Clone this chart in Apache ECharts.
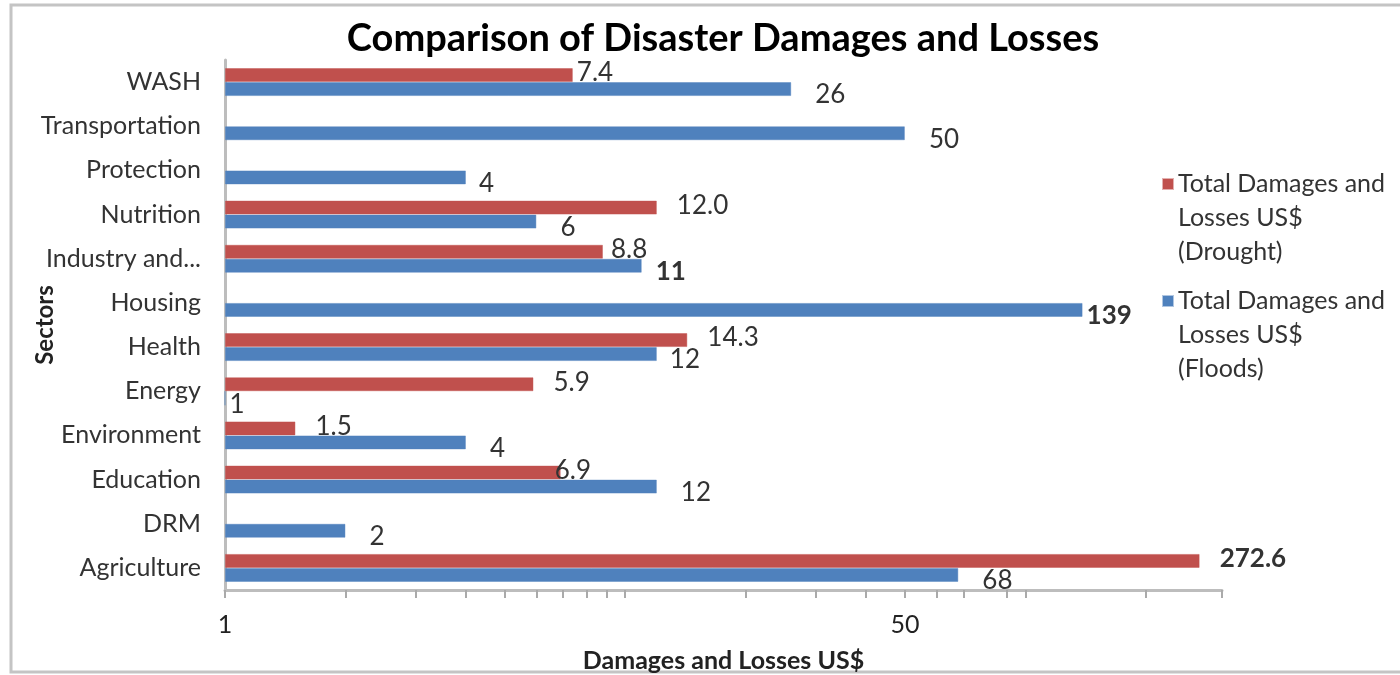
<!DOCTYPE html>
<html>
<head>
<meta charset="utf-8">
<script src="https://cdn.jsdelivr.net/npm/echarts@6/dist/echarts.min.js"></script>
<style>
  html, body { margin: 0; padding: 0; background: #fff; }
  #container { width: 1400px; height: 675px; }
</style>
</head>
<body>
<div id="container"></div>
<script>
// Sectors, bottom to top as the category axis draws them
const sectors = ['Agriculture', 'DRM', 'Education', 'Environment', 'Energy', 'Health',
  'Housing', 'Industry and...', 'Nutrition', 'Protection', 'Transportation', 'WASH'];
const drought = [272.6, null, 6.9, 1.5, 5.9, 14.3, null, 8.8, 12.0, null, null, 7.4];
const floods = [68, 2, 12, 4, 1, 12, 139, 11, 6, 4, 50, 26];
const xLabels = [1, 50];
const xTicks = [1, 2, 3, 4, 5, 6, 7, 8, 9, 10, 20, 30, 40, 50, 60, 70, 90, 100, 200, 310];

// a few data labels were nudged by hand in the original
const labelTweaks = {
  'Drought:WASH': { distance: 4 },
  'Drought:Industry and...': { distance: 8 },
  'Drought:Education': { distance: -6 },
  'Drought:Agriculture': { fontWeight: 'bold' },
  'Floods:Housing': { distance: 4, fontWeight: 'bold' },
  'Floods:Industry and...': { distance: 14, fontWeight: 'bold' },
  'Floods:Energy': { distance: 4 },
  'Floods:Protection': { distance: 13 },
  'Floods:Health': { distance: 13 }
};

const font = 'Lato';
const chart = echarts.init(document.getElementById('container'));

function items(name, values) {
  return values.map((v, i) => {
    const t = labelTweaks[name + ':' + sectors[i]];
    return t ? { value: v, label: t } : v;
  });
}

const legendText = { fontFamily: font, fontSize: 25, color: '#333', lineHeight: 34 };

const option = {
  backgroundColor: '#fff',
  animation: false,
  title: {
    text: 'Comparison of Disaster Damages and Losses',
    left: 718, top: 15, textAlign: 'center',
    textStyle: { fontFamily: font, fontSize: 38, fontWeight: 'bold', color: '#000' }
  },
  graphic: [{
    type: 'rect', shape: { x: 11, y: 5, width: 1400, height: 667 },
    style: { fill: 'none', stroke: '#c4c4c4', lineWidth: 3 }, silent: true
  }],
  legend: [
    {
      data: ['Drought'], orient: 'vertical', left: 1157, top: 94,
      icon: 'rect', itemWidth: 10, itemHeight: 10, textStyle: legendText,
      formatter: () => '\n\nTotal Damages and\nLosses US$\n(Drought)'
    },
    {
      data: ['Floods'], orient: 'vertical', left: 1157, top: 211,
      icon: 'rect', itemWidth: 10, itemHeight: 10, textStyle: legendText,
      formatter: () => '\n\nTotal Damages and\nLosses US$\n(Floods)'
    }
  ],
  grid: { left: 225, right: 178, top: 60, bottom: 85, containLabel: false, outerBoundsMode: 'none' },
  xAxis: {
    type: 'log', logBase: 10, min: 1, max: 310,
    name: 'Damages and Losses US$', nameLocation: 'middle', nameGap: 58,
    nameTextStyle: { fontFamily: font, fontSize: 25, fontWeight: 'bold', color: '#222' },
    axisLine: { show: true, lineStyle: { color: '#bdbdbd', width: 3 } },
    axisTick: { show: true, length: 8, customValues: xTicks, lineStyle: { color: '#aaa', width: 2 } },
    axisLabel: { customValues: xLabels, margin: 22, fontFamily: font, fontSize: 25, color: '#222' },
    splitLine: { show: false }, minorTick: { show: false }
  },
  yAxis: {
    type: 'category', data: sectors,
    name: 'Sectors', nameLocation: 'middle', nameGap: 168, nameRotate: 90, nameMoveOverlap: false,
    nameTextStyle: { fontFamily: font, fontSize: 24, fontWeight: 'bold', color: '#222' },
    axisLine: { lineStyle: { color: '#bdbdbd', width: 3 } },
    axisTick: { length: 11, lineStyle: { color: '#aaa', width: 2 } },
    axisLabel: { margin: 24, fontFamily: font, fontSize: 25, color: '#333' }
  },
  series: [
    {
      name: 'Drought', type: 'bar', data: items('Drought', drought), barWidth: 14, barGap: '0%',
      itemStyle: { color: '#c0504d', borderColor: 'rgba(192,80,77,0.45)', borderWidth: 1 },
      label: {
        show: true, position: 'right', distance: 20, offset: [0, -2],
        fontFamily: font, fontSize: 26, color: '#333',
        formatter: p => p.value == null ? '' : p.value.toFixed(1)
      }
    },
    {
      name: 'Floods', type: 'bar', data: items('Floods', floods), barWidth: 14,
      itemStyle: { color: '#4f81bd', borderColor: 'rgba(79,129,189,0.45)', borderWidth: 1 },
      label: {
        show: true, position: 'right', distance: 24, offset: [0, 6],
        fontFamily: font, fontSize: 26, color: '#333',
        formatter: p => p.value == null ? '' : String(p.value)
      }
    }
  ]
};

chart.setOption(option);
</script>
</body>
</html>
